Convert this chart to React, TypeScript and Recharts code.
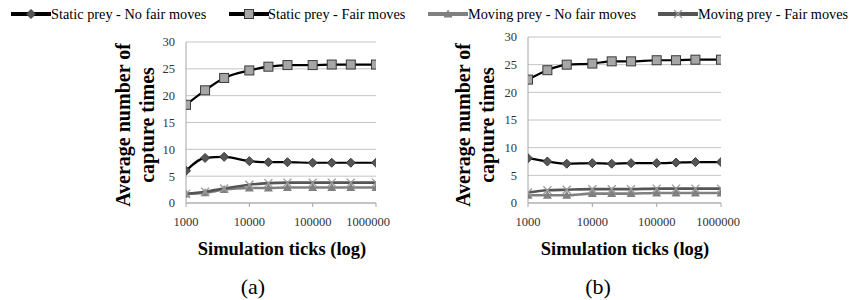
import React from "react";
import { LineChart, Line, XAxis, YAxis, CartesianGrid } from "recharts";

const ticks = [1000, 2000, 4000, 10000, 20000, 40000, 100000, 200000, 400000, 1000000];
const xTicks = [1000, 10000, 100000, 1000000];
const yTicks = [0, 5, 10, 15, 20, 25, 30];

// (a)
const staticNoFairA = [6.0, 8.4, 8.6, 7.8, 7.6, 7.6, 7.5, 7.5, 7.5, 7.5];
const staticFairA = [18.3, 21.0, 23.3, 24.7, 25.4, 25.7, 25.7, 25.8, 25.8, 25.8];
const movingNoFairA = [1.7, 1.9, 2.5, 2.8, 2.8, 2.9, 2.9, 2.9, 2.9, 2.9];
const movingFairA = [1.7, 2.1, 2.7, 3.4, 3.7, 3.8, 3.8, 3.8, 3.8, 3.8];

// (b)
const staticNoFairB = [8.1, 7.5, 7.1, 7.2, 7.1, 7.2, 7.2, 7.3, 7.4, 7.4];
const staticFairB = [22.3, 24.0, 25.0, 25.2, 25.6, 25.6, 25.8, 25.8, 25.9, 25.9];
const movingNoFairB = [1.4, 1.4, 1.4, 1.7, 1.7, 1.7, 1.8, 1.8, 1.8, 1.8];
const movingFairB = [1.9, 2.3, 2.4, 2.5, 2.5, 2.5, 2.6, 2.6, 2.6, 2.6];

const seriesNames = [
  "Static prey - No fair moves",
  "Static prey - Fair moves",
  "Moving prey - No fair moves",
  "Moving prey - Fair moves",
];

const serif = "Liberation Serif";

const Diamond = ({ cx, cy }: any) => (
  <polygon points={`${cx},${cy - 4.5} ${cx + 4.5},${cy} ${cx},${cy + 4.5} ${cx - 4.5},${cy}`} fill="#555" stroke="#3a3a3a" />
);
const Square = ({ cx, cy }: any) => (
  <rect x={cx - 4.5} y={cy - 4.5} width={9} height={9} fill="#a6a6a6" stroke="#3a3a3a" strokeWidth={1} />
);
const Triangle = ({ cx, cy }: any) => (
  <polygon points={`${cx},${cy - 4.5} ${cx + 4.5},${cy + 3.5} ${cx - 4.5},${cy + 3.5}`} fill="#808080" />
);
const Cross = ({ cx, cy }: any) => (
  <g stroke="#9a9a9a" strokeWidth={1.3}>
    <line x1={cx - 4} y1={cy - 4} x2={cx + 4} y2={cy + 4} />
    <line x1={cx - 4} y1={cy + 4} x2={cx + 4} y2={cy - 4} />
  </g>
);

const markers = [Diamond, Square, Triangle, Cross];
const lineColors = ["#000", "#000", "#808080", "#555"];

function buildRows(a: number[], b: number[], c: number[], d: number[]) {
  return ticks.map((t, i) => ({ t, s0: a[i], s1: b[i], s2: c[i], s3: d[i] }));
}

function SubChart({ rows, left, width, top, right }: any) {
  return (
    <div style={{ position: "absolute", left, top: 0 }}>
      <LineChart width={width} height={240} data={rows} margin={{ top, right, bottom: 17, left: 56 }}>
        <CartesianGrid vertical={false} stroke="#c4c4c4" />
        <XAxis
          dataKey="t"
          type="number"
          scale="log"
          domain={[1000, 1000000]}
          ticks={xTicks}
          allowDataOverflow
          height={20}
          stroke="#a6a6a6"
          tickSize={4}
          tickMargin={10}
          tick={{ fontSize: 12.5, fontFamily: serif, fill: "#333" }}
        />
        <YAxis
          domain={[0, 30]}
          ticks={yTicks}
          width={30}
          stroke="#a6a6a6"
          tickLine={false}
          tickSize={6}
          tickMargin={5}
          tick={{ fontSize: 12.5, fontFamily: serif, fill: "#333" }}
        />
        {[0, 1, 2, 3].map((k) => {
          const M = markers[k];
          return (
            <Line
              key={k}
              dataKey={`s${k}`}
              name={seriesNames[k]}
              type="monotone"
              stroke={lineColors[k]}
              strokeWidth={k < 2 ? 2.2 : 2.6}
              dot={(p: any) => <M key={p.index} cx={p.cx} cy={p.cy} />}
              isAnimationActive={false}
            />
          );
        })}
      </LineChart>
    </div>
  );
}

function LegendItem({ k, x, textX }: any) {
  const M = markers[k];
  return (
    <>
      <svg style={{ position: "absolute", left: x, top: 9 }} width={40} height={10}>
        <line x1={0} y1={5} x2={40} y2={5} stroke={lineColors[k]} strokeWidth={4} />
        <M cx={20} cy={5} />
      </svg>
      <div style={{ position: "absolute", left: textX, top: 5, fontSize: 14.3, fontFamily: serif, whiteSpace: "nowrap", lineHeight: "18px" }}>
        {seriesNames[k]}
      </div>
    </>
  );
}

function YTitle({ cx }: any) {
  return (
    <div
      style={{
        position: "absolute",
        left: cx - 100,
        top: 125 - 24,
        width: 200,
        height: 48,
        transform: "rotate(-90deg)",
        textAlign: "center",
        fontFamily: serif,
        fontWeight: "bold",
        fontSize: 20,
        lineHeight: "24px",
      }}
    >
      Average number of
      <br />
      capture times
    </div>
  );
}

function Caption({ cx }: any) {
  return (
    <div style={{ position: "absolute", left: cx - 120, top: 239, width: 240, textAlign: "center", fontFamily: serif, fontWeight: "bold", fontSize: 18.5 }}>
      Simulation ticks (log)
    </div>
  );
}

export default function App() {
  const rowsA = buildRows(staticNoFairA, staticFairA, movingNoFairA, movingFairA);
  const rowsB = buildRows(staticNoFairB, staticFairB, movingNoFairB, movingFairB);
  return (
    <div style={{ position: "absolute", left: 0, top: 0, width: 855, height: 300, background: "#fff", overflow: "hidden", fontFamily: serif }}>
      <LegendItem k={0} x={11} textX={51} />
      <LegendItem k={1} x={229} textX={268} />
      <LegendItem k={2} x={428} textX={468} />
      <LegendItem k={3} x={658} textX={698} />

      <SubChart rows={rowsA} left={100} width={290} top={42} right={14} />
      <SubChart rows={rowsB} left={442} width={298} top={37} right={19} />

      <YTitle cx={135} />
      <YTitle cx={475} />
      <Caption cx={282} />
      <Caption cx={625} />

      <div style={{ position: "absolute", left: 203, top: 274, width: 100, textAlign: "center", fontSize: 22 }}>(a)</div>
      <div style={{ position: "absolute", left: 548, top: 274, width: 100, textAlign: "center", fontSize: 22 }}>(b)</div>
    </div>
  );
}
